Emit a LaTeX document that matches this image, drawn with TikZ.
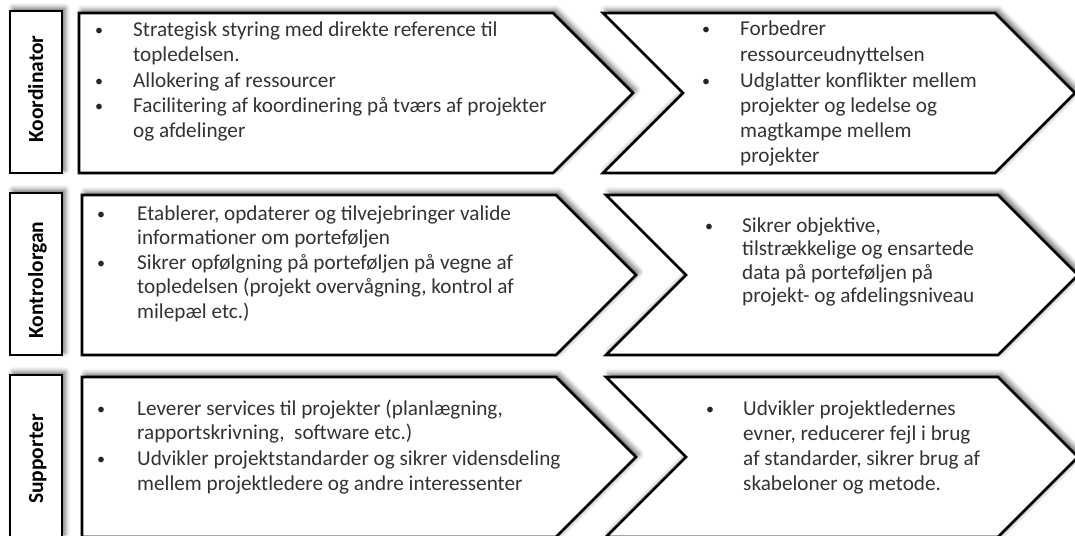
\documentclass[tikz,border=0pt]{standalone}
\usepackage{fontspec}
\setmainfont{Carlito}
\usetikzlibrary{shadows.blur}

\tikzset{
  felt/.style={draw=black, line width=2.7pt, fill=white, line join=miter,
    blur shadow={shadow xshift=3pt, shadow yshift=3pt, shadow blur radius=5pt, shadow opacity=60}},
  pkt/.style={anchor=base west, inner sep=0pt, align=left, text=black!80,
    font=\fontsize{21.2}{25}\selectfont},
  prik/.style={anchor=base west, inner sep=0pt, text=black!85,
    font=\fontsize{16}{25}\selectfont},
  rolle/.style={rotate=90, anchor=base, inner sep=0pt, text=black,
    font=\bfseries\fontsize{21.5}{25}\selectfont}
}

\begin{document}
\begin{tikzpicture}[x=1pt, y=-1pt]
\useasboundingbox (0,0) rectangle (1075,535);
% three rows: centre line and small shift
\foreach \cy/\dx in {93/0, 275/3, 457/3}{
  \draw[felt] (10, \cy-82) rectangle (62, \cy+80);
  \draw[felt] (79+\dx, \cy-80) -- (553+\dx, \cy-80) -- (633+\dx, \cy) -- (553+\dx, \cy+80) -- (79+\dx, \cy+80) -- cycle;
  \draw[felt] (603+\dx, \cy-80) -- (995+\dx, \cy-80) -- (1075+\dx, \cy) -- (995+\dx, \cy+80) -- (603+\dx, \cy+80) -- (683+\dx, \cy) -- cycle;
}

% roles
\node[rolle] (koord) at (43, 89) {Koordinator};
\node[rolle] (kontrol) at (43, 280) {Kontrolorgan};
\node[rolle] (supp) at (43, 459) {Supporter};

% Koordinator (text nodes sit on their last baseline)
\node[prik] (kb1) at (95, 36) {•};
\node[pkt] (k1) at (133, 62) {Strategisk styring med direkte reference til\\topledelsen.};
\node[prik] (kb2) at (95, 86) {•};
\node[pkt] (k2) at (133, 87) {Allokering af ressourcer};
\node[prik] (kb3) at (95, 111) {•};
\node[pkt] (k3) at (133, 137) {Facilitering af koordinering på tværs af projekter\\og afdelinger};
\node[prik] (kb4) at (702, 35) {•};
\node[pkt] (k4) at (740, 61) {Forbedrer\\ressourceudnyttelsen};
\node[prik] (kb5) at (702, 86) {•};
\node[pkt] (k5) at (740, 162) {Udglatter konflikter mellem\\projekter og ledelse og\\magtkampe mellem\\projekter};

% Kontrolorgan
\node[prik] (ob1) at (97, 219) {•};
\node[pkt, font=\fontsize{21.2}{24.5}\selectfont] (o1) at (137, 244.5) {Etablerer, opdaterer og tilvejebringer valide\\informationer om porteføljen};
\node[prik] (ob2) at (97, 268) {•};
\node[pkt, font=\fontsize{21.2}{24.5}\selectfont] (o2) at (137, 318) {Sikrer opfølgning på porteføljen på vegne af\\topledelsen (projekt overvågning, kontrol af\\milepæl etc.)};
\node[prik] (ob3) at (705, 231) {•};
\node[pkt, font=\fontsize{21.2}{23.5}\selectfont] (o3) at (742, 302.5) {Sikrer objektive,\\tilstrækkelige og ensartede\\data på porteføljen på\\projekt- og afdelingsniveau};

% Supporter
\node[prik] (sb1) at (97, 414) {•};
\node[pkt, font=\fontsize{21.2}{24}\selectfont] (s1) at (137, 439) {Leverer services til projekter (planlægning,\\rapportskrivning,\ \ software etc.)};
\node[prik] (sb2) at (97, 464) {•};
\node[pkt] (s2) at (137, 490) {Udvikler projektstandarder og sikrer vidensdeling\\mellem projektledere og andre interessenter};
\node[prik] (sb3) at (706, 414) {•};
\node[pkt] (s3) at (743, 490) {Udvikler projektledernes\\evner, reducerer fejl i brug\\af standarder, sikrer brug af\\skabeloner og metode.};
\end{tikzpicture}
\end{document}
